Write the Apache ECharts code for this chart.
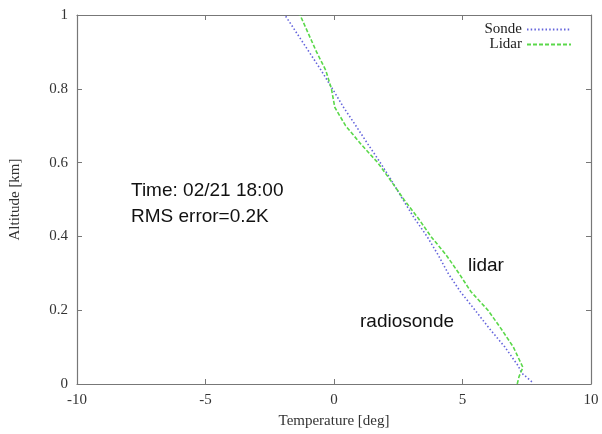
<!DOCTYPE html>
<html>
<head>
<meta charset="utf-8">
<script src="https://cdn.jsdelivr.net/npm/echarts@6/dist/echarts.min.js"></script>
<style>
html,body{margin:0;padding:0;background:#fff;}
#chart{width:602px;height:434px;}
</style>
</head>
<body>
<div id="chart"></div>
<script>
// Altitude [km] and temperature [deg]
const sondeAlt  = [0.006, 0.03, 0.05, 0.10, 0.15, 0.20, 0.25, 0.30, 0.35, 0.40, 0.45, 0.50, 0.55, 0.60, 0.65, 0.70, 0.75, 0.80, 0.85, 0.90, 0.95, 1.00];
const sondeTemp = [7.70, 7.30, 7.16, 6.65, 6.05, 5.49, 4.92, 4.44, 4.05, 3.62, 3.12, 2.68, 2.25, 1.80, 1.32, 0.85, 0.37, -0.06, -0.50, -0.97, -1.44, -1.91];
const lidarAlt  = [0.00, 0.02, 0.045, 0.10, 0.15, 0.20, 0.25, 0.30, 0.35, 0.40, 0.45, 0.50, 0.55, 0.60, 0.65, 0.70, 0.75, 0.80, 0.85, 0.90, 0.95, 1.00];
const lidarTemp = [7.13, 7.20, 7.35, 6.98, 6.50, 5.99, 5.33, 4.86, 4.36, 3.77, 3.27, 2.72, 2.22, 1.70, 1.05, 0.45, 0.03, -0.10, -0.32, -0.68, -1.00, -1.32];

const xTicks = [-10, -5, 0, 5, 10];
const yTicks = [0, 0.2, 0.4, 0.6, 0.8, 1];

const serif = '"Liberation Serif", "DejaVu Serif", serif';
const sans = '"Liberation Sans", Arial, sans-serif';
const axisColor = '#777';
const labelColor = '#333';

const chart = echarts.init(document.getElementById('chart'), null, {renderer: 'canvas'});

function zip(a, t) { return a.map((v, i) => [t[i], v]); }

const baseX = {
  type: 'value', min: xTicks[0], max: xTicks[xTicks.length - 1], interval: 5,
  axisLine: {show: true, onZero: false, lineStyle: {color: axisColor, width: 1.2}},
  axisTick: {show: true, inside: true, length: 5, lineStyle: {color: axisColor}},
  splitLine: {show: false}
};
const baseY = {
  type: 'value', min: yTicks[0], max: yTicks[yTicks.length - 1], interval: 0.2,
  axisLine: {show: true, onZero: false, lineStyle: {color: axisColor, width: 1.2}},
  axisTick: {show: true, inside: true, length: 5, lineStyle: {color: axisColor}},
  splitLine: {show: false}
};

chart.setOption({
  animation: false,
  backgroundColor: '#fff',
  grid: {left: 76, right: 11, top: 15, bottom: 50, containLabel: false},
  legend: {
    orient: 'vertical', right: 25, top: 17, align: 'right',
    itemWidth: 44, itemHeight: 10, itemGap: 0,
    itemStyle: {opacity: 0},
    textStyle: {fontFamily: serif, fontSize: 15, color: '#222', lineHeight: 15},
    data: ['Sonde', 'Lidar']
  },
  xAxis: [
    Object.assign({}, baseX, {
      position: 'bottom',
      name: 'Temperature [deg]', nameLocation: 'middle', nameGap: 30,
      nameTextStyle: {fontFamily: serif, fontSize: 15, color: labelColor},
      axisLabel: {fontFamily: serif, fontSize: 15, color: labelColor, margin: 9}
    }),
    Object.assign({}, baseX, {position: 'top', axisLabel: {show: false}})
  ],
  yAxis: [
    Object.assign({}, baseY, {
      position: 'left',
      name: 'Altitude [km]', nameLocation: 'middle', nameGap: 54, nameRotate: 90,
      nameTextStyle: {fontFamily: serif, fontSize: 15, color: labelColor},
      axisLabel: {fontFamily: serif, fontSize: 15, color: labelColor, margin: 9}
    }),
    Object.assign({}, baseY, {position: 'right', axisLabel: {show: false}})
  ],
  series: [
    {
      name: 'Sonde', type: 'line', xAxisIndex: 0, yAxisIndex: 0,
      data: zip(sondeAlt, sondeTemp), symbol: 'none', showSymbol: false,
      lineStyle: {color: '#6464dc', width: 1.6, type: [1.5, 2.2]},
      itemStyle: {color: '#6464dc'}
    },
    {
      name: 'Lidar', type: 'line', xAxisIndex: 0, yAxisIndex: 0,
      data: zip(lidarAlt, lidarTemp), symbol: 'none', showSymbol: false,
      lineStyle: {color: '#5ad84a', width: 1.6, type: [4, 2]},
      itemStyle: {color: '#5ad84a'}
    }
  ],
  graphic: [
    {type: 'text', left: 131, top: 181, style: {text: 'Time: 02/21 18:00', font: '19px ' + sans, fill: '#111'}},
    {type: 'text', left: 131, top: 207, style: {text: 'RMS error=0.2K', font: '19px ' + sans, fill: '#111'}},
    {type: 'text', left: 468, top: 256, style: {text: 'lidar', font: '19px ' + sans, fill: '#111'}},
    {type: 'text', left: 360, top: 312, style: {text: 'radiosonde', font: '19px ' + sans, fill: '#111'}}
  ]
});
</script>
</body>
</html>
